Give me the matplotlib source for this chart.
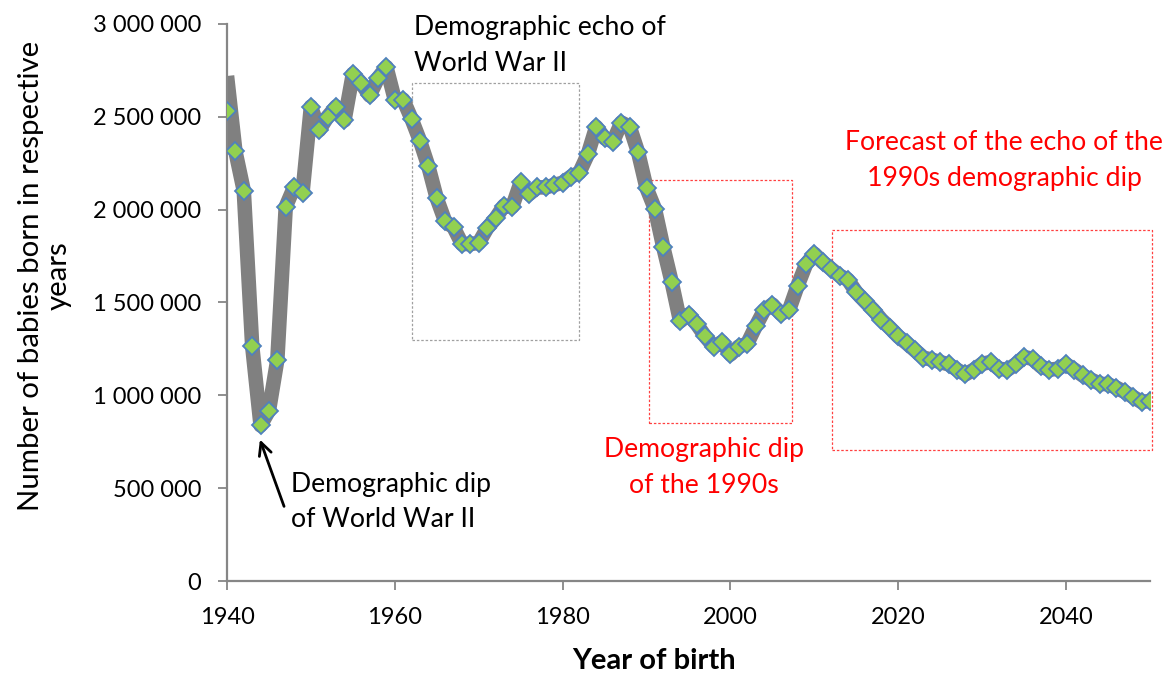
import matplotlib
matplotlib.use("Agg")
import matplotlib.pyplot as plt
from matplotlib.patches import Rectangle
from matplotlib.ticker import FuncFormatter, MultipleLocator

# ---------------- data ----------------
years = list(range(1940, 2051))
births = [
    2529000, 2315000, 2102000, 1267000, 838000, 918000, 1192000, 2016000, 2122000, 2092000,   # 1940-1949
    2555000, 2429000, 2501000, 2555000, 2481000, 2731000, 2681000, 2615000, 2709000, 2768000,  # 1950-1959
    2592000, 2592000, 2488000, 2371000, 2233000, 2061000, 1937000, 1905000, 1815000, 1815000,  # 1960-1969
    1821000, 1900000, 1953000, 2021000, 2016000, 2147000, 2084000, 2120000, 2120000, 2133000,  # 1970-1979
    2145000, 2178000, 2200000, 2298000, 2446000, 2385000, 2367000, 2469000, 2446000, 2308000,  # 1980-1989
    2116000, 2004000, 1797000, 1609000, 1399000, 1435000, 1382000, 1317000, 1263000, 1287000,  # 1990-1999
    1220000, 1263000, 1278000, 1371000, 1457000, 1489000, 1439000, 1461000, 1590000, 1705000,  # 2000-2009
    1762000, 1717000, 1681000, 1645000, 1622000, 1555000, 1507000, 1461000, 1407000, 1364000,  # 2010-2019
    1317000, 1281000, 1242000, 1203000, 1192000, 1179000, 1167000, 1138000, 1113000, 1138000,  # 2020-2029
    1170000, 1179000, 1143000, 1138000, 1167000, 1206000, 1197000, 1156000, 1138000, 1143000,  # 2030-2039
    1167000, 1138000, 1107000, 1084000, 1063000, 1059000, 1041000, 1018000, 991000, 964000,    # 2040-2049
    970000,                                                                                    # 2050
]
line_start_value = 2720000          # the grey line starts higher at 1940
line_values = [line_start_value] + births[1:]

x_ticks = [1940, 1960, 1980, 2000, 2020, 2040]

# annotation boxes: (x0, x1, y0, y1)
box_echo = (1962, 1982, 1300000, 2680000)
box_dip90 = (1990.3, 2007.3, 850000, 2160000)
box_forecast = (2012.1, 2050.2, 705000, 1892000)

# ---------------- figure ----------------
plt.rcParams['font.family'] = ['Lato', 'DejaVu Sans']
W, H = 1171, 675
fig = plt.figure(figsize=(W / 100, H / 100), dpi=100)
ax = fig.add_axes([227 / W, 1 - 581 / H, (1150 - 227) / W, (581 - 24) / H])

def px(x, y):
    return x / W, 1 - y / H

ax.plot(years, line_values, color='#808080', lw=10.5, solid_joinstyle='round',
        solid_capstyle='butt', zorder=2)
ax.plot(years, births, linestyle='none', marker='D', markersize=8.8,
        markerfacecolor='#92D050', markeredgecolor='#4F81BD', markeredgewidth=1.3,
        zorder=3)

ax.set_xlim(1940, 2050)
ax.set_ylim(0, 3000000)
ax.set_xticks(x_ticks)
ax.yaxis.set_major_locator(MultipleLocator(500000))
ax.yaxis.set_major_formatter(FuncFormatter(lambda v, p: f"{int(v):,}".replace(",", " ")))

for s in ['top', 'right']:
    ax.spines[s].set_visible(False)
for s in ['left', 'bottom']:
    ax.spines[s].set_color('#868686')
    ax.spines[s].set_linewidth(1.6)
ax.tick_params(axis='both', direction='out', length=6.5, width=1.3, color='#868686',
               labelsize=17, labelcolor='black')
ax.tick_params(axis='x', pad=12.5)
ax.tick_params(axis='y', pad=12)

# boxes
for (x0, x1, y0, y1), col in [(box_echo, '#A0A0A0'), (box_dip90, '#FF4040'), (box_forecast, '#FF4040')]:
    ax.add_patch(Rectangle((x0, y0), x1 - x0, y1 - y0, fill=False, edgecolor=col,
                           linestyle=(0, (2, 1.5)), linewidth=0.9, clip_on=False, zorder=1))

# texts
fs = 19.2
fig.text(*px(414, 35), "Demographic echo of", fontsize=fs, ha='left', va='baseline')
fig.text(*px(414, 71), "World War II", fontsize=fs, ha='left', va='baseline')
fig.text(*px(291, 492), "Demographic dip", fontsize=fs, ha='left', va='baseline')
fig.text(*px(291, 527), "of World War II", fontsize=fs, ha='left', va='baseline')
fig.text(*px(704, 457), "Demographic dip", fontsize=fs, ha='center', va='baseline', color='red')
fig.text(*px(704, 493), "of the 1990s", fontsize=fs, ha='center', va='baseline', color='red')
fig.text(*px(1004, 150), "Forecast of the echo of the", fontsize=fs, ha='center', va='baseline', color='red')
fig.text(*px(1004, 186), "1990s demographic dip", fontsize=fs, ha='center', va='baseline', color='red')

ax.annotate("", xy=px(259, 437), xycoords='figure fraction',
            xytext=px(285, 509), textcoords='figure fraction',
            arrowprops=dict(arrowstyle='->,head_length=0.9,head_width=0.45', color='black', lw=2))

fig.text(*px(45, 276), "Number of babies born in respective\nyears", fontsize=21.2, rotation=90,
         ha='center', va='center', multialignment='center', linespacing=1.05)
fig.text(*px(654, 661), "Year of birth", fontsize=21, fontweight='bold', ha='center', va='center')

fig.savefig("out.png", dpi=100)
